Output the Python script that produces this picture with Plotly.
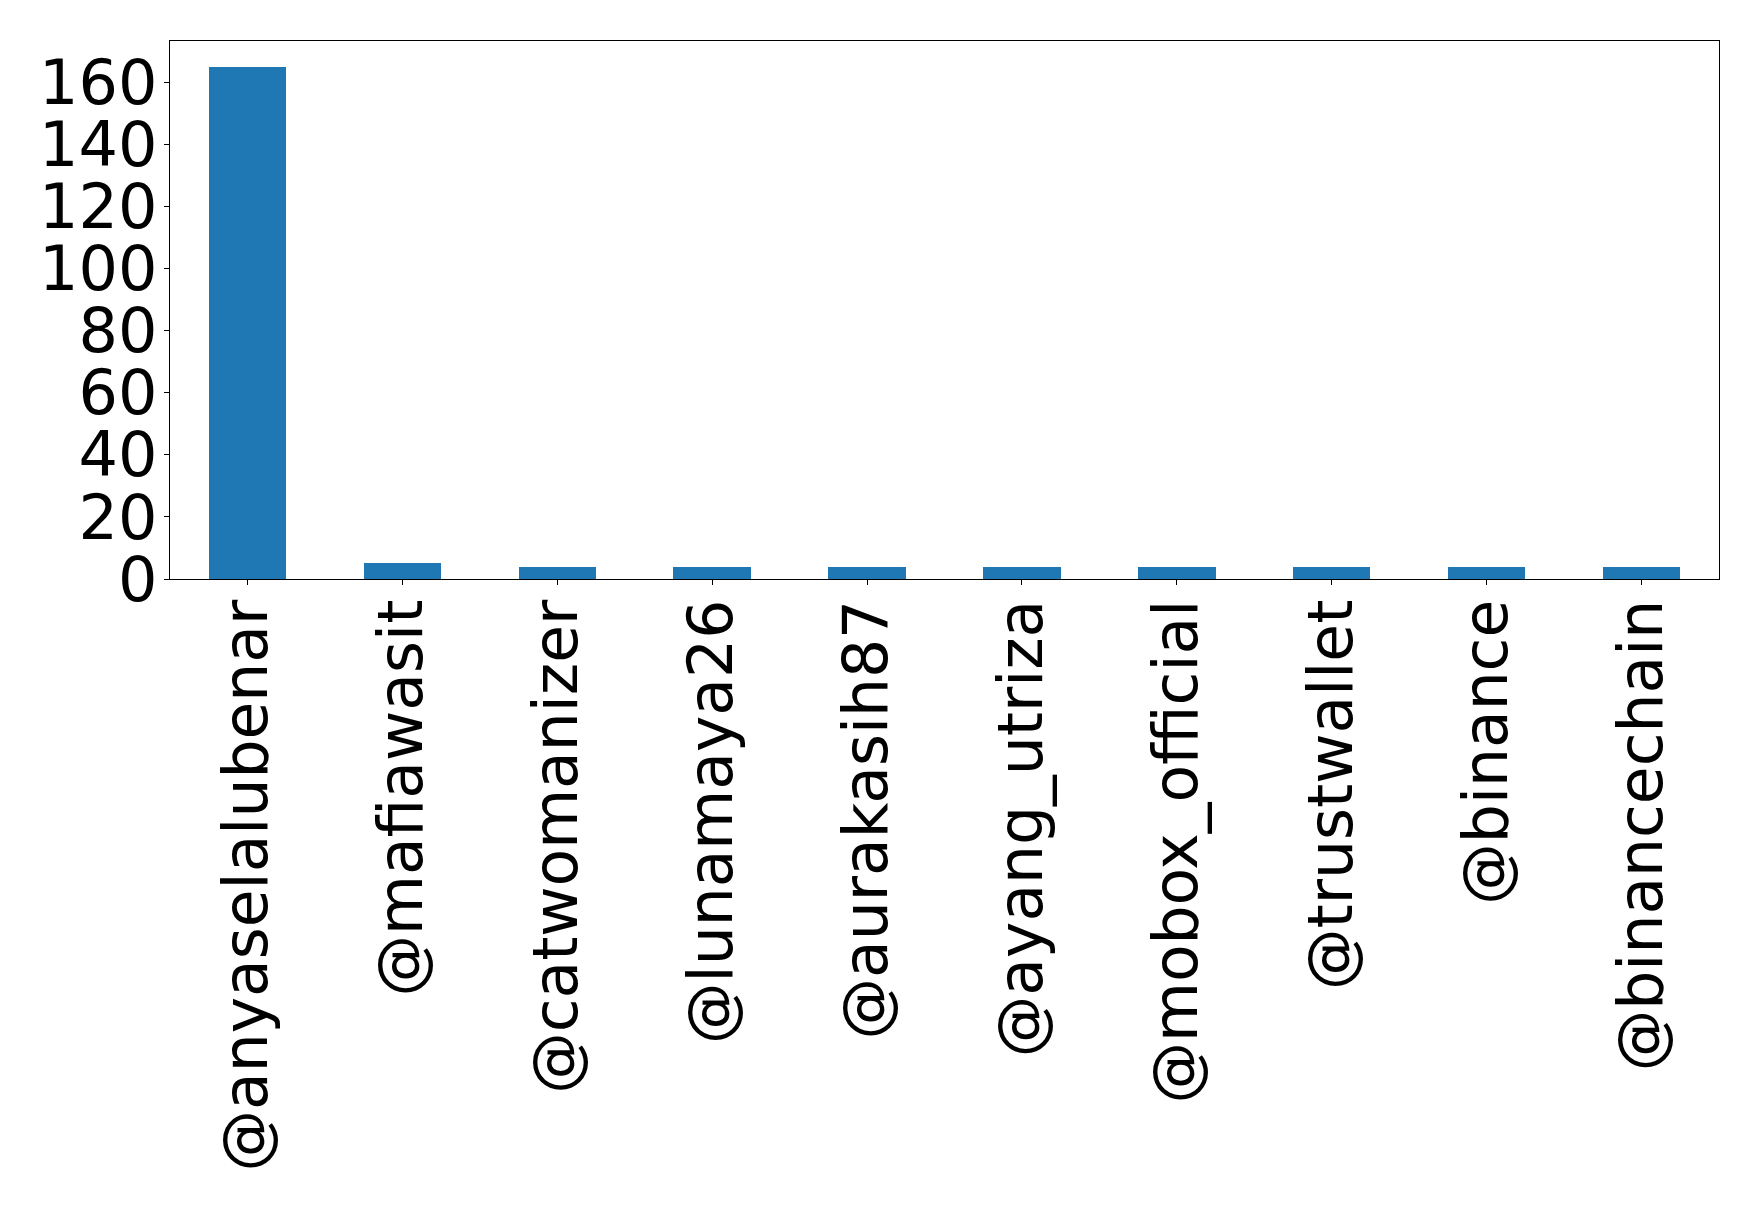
import plotly.graph_objects as go

categories = ["@anyaselalubenar", "@mafiawasit", "@catwomanizer", "@lunamaya26",
              "@aurakasih87", "@ayang_utriza", "@mobox_official", "@trustwallet",
              "@binance", "@binancechain"]
values = [165, 5, 4, 4, 4, 4, 4, 4, 4, 4]
y_ticks = [0, 20, 40, 60, 80, 100, 120, 140, 160]

fig = go.Figure(go.Bar(x=list(range(len(categories))), y=values, width=0.5,
                       marker=dict(color="#1f77b4", line=dict(width=0))))

fig.update_layout(
    width=1758, height=1209,
    margin=dict(l=162, r=47, t=33, b=638),
    paper_bgcolor="white", plot_bgcolor="white",
    font=dict(family="DejaVu Sans", size=62, color="black"),
    showlegend=False,
    bargap=0,
)
fig.update_xaxes(
    range=[-0.5, 9.5], tickmode="array", tickvals=list(range(len(categories))),
    ticktext=categories, tickangle=-90,
    showline=True, linecolor="black", linewidth=1.3, mirror=True,
    ticks="outside", ticklen=5, tickwidth=1.3, tickcolor="black",
    showgrid=False, zeroline=False, tickfont=dict(size=61.5),
    ticklabelstandoff=-10,
)
fig.update_yaxes(
    range=[0, 173.25], tickmode="array", tickvals=y_ticks,
    ticktext=[str(v) for v in y_ticks],
    showline=True, linecolor="black", linewidth=1.3, mirror=True,
    ticks="outside", ticklen=5, tickwidth=1.3, tickcolor="black",
    showgrid=False, zeroline=False, tickfont=dict(size=62),
    ticklabelstandoff=-6,
)

fig.write_html("out.html")
